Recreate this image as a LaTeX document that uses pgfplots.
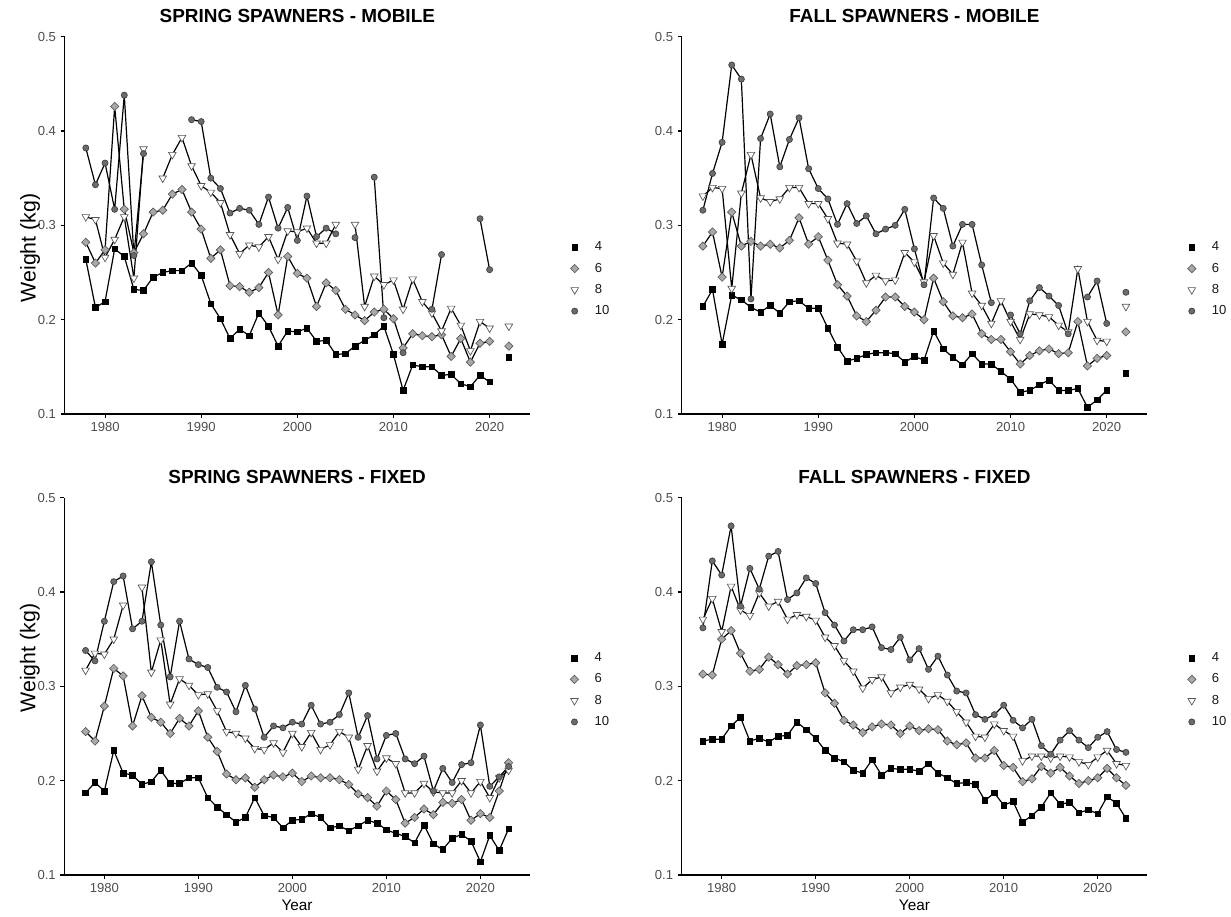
\documentclass[border=0pt]{standalone}
\usepackage{fontspec}
\setmainfont{Liberation Sans}
\usepackage{pgfplots}
\usepackage{pgfplotstable}
\pgfplotsset{compat=1.18}

\definecolor{tickgray}{HTML}{4D4D4D}
\definecolor{diafill}{HTML}{A8A8A8}
\definecolor{diaedge}{HTML}{5A5A5A}
\definecolor{circfill}{HTML}{6B6B6B}
\definecolor{circedge}{HTML}{3F3F3F}
\definecolor{triedge}{HTML}{555555}

% spring spawners - mobile
\pgfplotstableread{
year a4 a6 a8 a10
1978 0.264 0.282 0.309 0.382
1979 0.213 0.260 0.306 0.343
1980 0.219 0.274 0.266 0.366
1981 0.275 0.426 0.285 0.317
1982 0.267 0.317 0.309 0.438
1983 0.232 0.271 0.244 0.268
1984 0.231 0.291 0.381 0.376
1985 0.245 0.314 nan nan
1986 0.250 0.316 0.350 nan
1987 0.252 0.333 0.375 nan
1988 0.252 0.338 0.393 nan
1989 0.260 0.314 0.363 0.412
1990 0.247 0.296 0.342 0.410
1991 0.217 0.265 0.335 0.350
1992 0.201 0.274 0.324 0.339
1993 0.180 0.236 0.290 0.313
1994 0.190 0.235 0.270 0.318
1995 0.183 0.229 0.279 0.316
1996 0.207 0.234 0.277 0.301
1997 0.193 0.250 0.288 0.330
1998 0.172 0.205 0.264 0.297
1999 0.188 0.267 0.294 0.319
2000 0.187 0.249 0.293 0.284
2001 0.191 0.244 0.297 0.331
2002 0.177 0.214 0.281 0.288
2003 0.178 0.239 0.281 0.297
2004 0.163 0.231 0.301 0.291
2005 0.164 0.211 nan nan
2006 0.172 0.205 0.301 0.287
2007 0.178 0.199 0.214 nan
2008 0.184 0.208 0.246 0.351
2009 0.193 0.211 0.237 0.202
2010 0.163 0.201 0.242 nan
2011 0.125 0.170 0.211 0.165
2012 0.152 0.185 0.243 nan
2013 0.150 0.183 0.219 nan
2014 0.150 0.182 0.207 0.211
2015 0.141 0.184 0.188 0.269
2016 0.142 0.161 0.212 nan
2017 0.132 0.180 0.194 nan
2018 0.129 0.155 0.167 nan
2019 0.141 0.175 0.198 0.307
2020 0.134 0.177 0.191 0.253
2021 nan nan nan nan
2022 0.160 0.172 0.193 nan
}\springmobile

% fall spawners - mobile
\pgfplotstableread{
year a4 a6 a8 a10
1978 0.214 0.278 0.331 0.316
1979 0.232 0.293 0.340 0.355
1980 0.174 0.245 0.339 0.388
1981 0.226 0.314 0.233 0.470
1982 0.221 0.278 0.334 0.455
1983 0.213 0.283 0.375 0.222
1984 0.208 0.278 0.329 0.392
1985 0.215 0.280 0.325 0.418
1986 0.207 0.276 0.328 0.362
1987 0.219 0.284 0.340 0.391
1988 0.220 0.308 0.340 0.414
1989 0.212 0.280 0.323 0.360
1990 0.212 0.288 0.323 0.339
1991 0.191 0.263 0.307 0.328
1992 0.171 0.237 0.281 0.301
1993 0.156 0.225 0.280 0.323
1994 0.159 0.204 0.262 0.302
1995 0.163 0.198 0.239 0.310
1996 0.165 0.210 0.247 0.291
1997 0.165 0.224 0.241 0.296
1998 0.164 0.224 0.242 0.300
1999 0.155 0.214 0.271 0.317
2000 0.161 0.208 0.261 0.275
2001 0.157 0.200 0.240 0.237
2002 0.188 0.244 0.289 0.329
2003 0.169 0.219 0.260 0.318
2004 0.160 0.204 0.248 0.278
2005 0.152 0.202 0.282 0.301
2006 0.164 0.206 0.228 0.301
2007 0.153 0.185 0.215 0.258
2008 0.153 0.179 0.196 0.218
2009 0.145 0.179 0.220 nan
2010 0.137 0.166 0.198 0.205
2011 0.123 0.153 0.179 0.185
2012 0.125 0.162 0.206 0.220
2013 0.131 0.167 0.205 0.234
2014 0.136 0.169 0.203 0.225
2015 0.125 0.164 0.194 0.215
2016 0.125 0.165 0.187 0.185
2017 0.127 0.198 0.254 nan
2018 0.107 0.151 0.198 0.224
2019 0.115 0.159 0.178 0.241
2020 0.125 0.162 0.177 0.196
2021 nan nan nan nan
2022 0.143 0.187 0.214 0.229
}\fallmobile

% spring spawners - fixed
\pgfplotstableread{
year a4 a6 a8 a10
1978 0.187 0.252 0.317 0.338
1979 0.198 0.242 0.335 0.327
1980 0.189 0.279 0.334 0.369
1981 0.232 0.319 0.350 0.411
1982 0.208 0.311 0.386 0.417
1983 0.206 0.258 nan 0.361
1984 0.196 0.290 0.405 0.369
1985 0.199 0.267 0.315 0.432
1986 0.211 0.262 0.349 0.365
1987 0.197 0.250 0.281 0.310
1988 0.197 0.266 0.308 0.369
1989 0.203 0.258 0.301 0.329
1990 0.203 0.274 0.291 0.323
1991 0.182 0.246 0.292 0.320
1992 0.172 0.231 0.274 0.299
1993 0.164 0.207 0.252 0.294
1994 0.156 0.201 0.250 0.273
1995 0.161 0.203 0.245 0.301
1996 0.182 0.193 0.234 0.276
1997 0.163 0.201 0.233 0.246
1998 0.161 0.206 0.240 0.258
1999 0.150 0.204 0.230 0.256
2000 0.158 0.208 0.250 0.262
2001 0.159 0.199 0.236 0.260
2002 0.165 0.205 0.251 0.280
2003 0.161 0.203 0.233 0.260
2004 0.150 0.203 0.238 0.262
2005 0.152 0.201 0.252 0.270
2006 0.147 0.196 0.246 0.293
2007 0.152 0.186 0.212 0.246
2008 0.158 0.182 0.237 0.269
2009 0.155 0.173 0.210 0.223
2010 0.148 0.189 0.224 0.248
2011 0.144 0.180 0.218 0.250
2012 0.141 0.155 0.187 0.223
2013 0.134 0.161 0.187 0.218
2014 0.153 0.170 0.197 0.226
2015 0.133 0.164 0.188 0.189
2016 0.127 0.177 0.187 0.213
2017 0.139 0.176 0.187 0.198
2018 0.143 0.180 0.200 0.217
2019 0.136 0.158 0.187 0.219
2020 0.114 0.165 0.199 0.259
2021 0.142 0.161 0.182 0.194
2022 0.126 0.189 0.203 0.204
2023 0.149 0.219 0.211 0.215
}\springfixed

% fall spawners - fixed
\pgfplotstableread{
year a4 a6 a8 a10
1978 0.242 0.313 0.371 0.362
1979 0.244 0.312 0.393 0.433
1980 0.244 0.350 0.358 0.418
1981 0.258 0.359 0.406 0.470
1982 0.267 0.335 0.381 0.385
1983 0.242 0.316 0.375 0.425
1984 0.245 0.318 0.399 0.403
1985 0.241 0.331 0.385 0.438
1986 0.247 0.323 0.390 0.443
1987 0.248 0.313 0.371 0.392
1988 0.262 0.322 0.376 0.399
1989 0.254 0.323 0.374 0.415
1990 0.245 0.325 0.370 0.409
1991 0.232 0.293 0.352 0.378
1992 0.224 0.282 0.343 0.365
1993 0.220 0.264 0.327 0.348
1994 0.211 0.259 0.316 0.360
1995 0.208 0.251 0.298 0.360
1996 0.222 0.257 0.307 0.363
1997 0.206 0.260 0.310 0.341
1998 0.213 0.259 0.293 0.339
1999 0.212 0.250 0.299 0.352
2000 0.212 0.258 0.302 0.328
2001 0.210 0.253 0.297 0.340
2002 0.218 0.255 0.287 0.318
2003 0.208 0.254 0.291 0.332
2004 0.203 0.242 0.284 0.312
2005 0.197 0.238 0.273 0.295
2006 0.198 0.240 0.262 0.293
2007 0.196 0.224 0.247 0.270
2008 0.179 0.224 0.246 0.265
2009 0.187 0.232 0.260 0.270
2010 0.174 0.216 0.253 0.280
2011 0.178 0.214 0.247 0.264
2012 0.156 0.199 0.221 0.256
2013 0.163 0.202 0.226 0.265
2014 0.172 0.215 0.226 0.237
2015 0.187 0.208 0.224 0.228
2016 0.175 0.214 0.226 0.243
2017 0.177 0.205 0.225 0.253
2018 0.166 0.197 0.220 0.243
2019 0.169 0.200 0.217 0.235
2020 0.165 0.203 0.225 0.246
2021 0.183 0.213 0.232 0.252
2022 0.176 0.203 0.218 0.233
2023 0.160 0.195 0.216 0.230
}\fallfixed

\pgfplotsset{
  panel/.style={
    scale only axis, width=349pt, height=283pt,
    axis x line*=bottom, axis y line*=left,
    axis line style={line width=0.8pt, black, -},
    tick align=outside, major tick length=3pt,
    tick style={black, line width=0.8pt},
    ymin=0.1, ymax=0.5, ytick={0.1,0.2,0.3,0.4,0.5},
    xtick={1980,1990,2000,2010,2020},
    /pgf/number format/assume math mode=true,
    tick label style={font=\fontsize{9.8}{11}\selectfont, color=tickgray},
    xticklabel style={/pgf/number format/1000 sep={}},
    yticklabel style={/pgf/number format/fixed, /pgf/number format/fixed zerofill, /pgf/number format/precision=1},
    unbounded coords=jump,
    title style={at={(0.5,1)}, anchor=center, yshift=9.2pt, font=\bfseries\fontsize{14.2}{16}\selectfont},
    legend style={draw=none, fill=none, anchor=west, font=\fontsize{9.8}{11}\selectfont,
      text=black!90, row sep=3.6pt, /tikz/every odd column/.append style={column sep=10pt}},
    legend cell align=left,
  },
  s4/.style={black, line width=0.9pt, mark=square*, mark size=2.1pt,
    mark options={fill=black, draw=black, line width=0.4pt, solid}},
  s6/.style={black, line width=0.9pt, mark=square*, mark size=2.2pt,
    mark options={rotate=45, fill=diafill, draw=diaedge, line width=0.5pt, solid}},
  s8/.style={black, line width=0.9pt, mark=triangle*, mark size=3.3pt,
    mark options={rotate=180, fill=white, draw=triedge, line width=0.5pt, solid}},
  s10/.style={black, line width=0.9pt, mark=*, mark size=2.3pt,
    mark options={fill=circfill, draw=circedge, line width=0.5pt, solid}},
}

\newcommand{\series}[1]{%
  \addplot[s4, forget plot] table[x=year, y=a4]{#1};
  \addplot[s6, forget plot] table[x=year, y=a6]{#1};
  \addplot[s8, forget plot] table[x=year, y=a8]{#1};
  \addplot[s10, forget plot] table[x=year, y=a10]{#1};
  \addlegendimage{only marks, s4}\addlegendentry{4}
  \addlegendimage{only marks, s6}\addlegendentry{6}
  \addlegendimage{only marks, s8}\addlegendentry{8}
  \addlegendimage{only marks, s10}\addlegendentry{10}
}

\begin{document}
\begin{tikzpicture}
\useasboundingbox (0,0) rectangle (923.25pt,687.75pt);

\begin{axis}[panel, at={(48.5pt,377.25pt)}, anchor=south west,
  xmin=1975.8, xmax=2024.2,
  title={SPRING SPAWNERS - MOBILE},
  ylabel={Weight (kg)},
  ylabel style={at={(axis description cs:-0.074,0.44)}, anchor=center, font=\fontsize{16}{19}\selectfont},
  legend style={at={(1.078,0.357)}}]
\series{\springmobile}
\end{axis}

\begin{axis}[panel, at={(511.3pt,377.25pt)}, anchor=south west,
  xmin=1975.8, xmax=2024.2,
  title={FALL SPAWNERS - MOBILE},
  legend style={at={(1.078,0.357)}}]
\series{\fallmobile}
\end{axis}

\begin{axis}[panel, at={(48.3pt,31.5pt)}, anchor=south west,
  xmin=1975.75, xmax=2025.25,
  title={SPRING SPAWNERS - FIXED},
  ylabel={Weight (kg)},
  ylabel style={at={(axis description cs:-0.074,0.575)}, anchor=center, font=\fontsize{16}{19}\selectfont},
  xlabel={Year},
  xlabel style={at={(axis description cs:0.5,0)}, anchor=center, yshift=-22.5pt, font=\fontsize{11.5}{13}\selectfont},
  legend style={at={(1.078,0.49)}}]
\series{\springfixed}
\end{axis}

\begin{axis}[panel, at={(511.3pt,31.5pt)}, anchor=south west,
  xmin=1975.75, xmax=2025.25,
  title={FALL SPAWNERS - FIXED},
  xlabel={Year},
  xlabel style={at={(axis description cs:0.5,0)}, anchor=center, yshift=-22.5pt, font=\fontsize{11.5}{13}\selectfont},
  legend style={at={(1.078,0.49)}}]
\series{\fallfixed}
\end{axis}
\end{tikzpicture}
\end{document}
